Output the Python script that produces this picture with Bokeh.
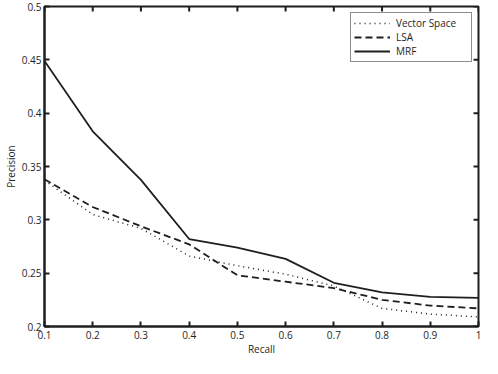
import math
from bokeh.plotting import figure
from bokeh.models import FixedTicker, Range1d, Legend, LegendItem
from bokeh.embed import file_html
from bokeh.resources import INLINE

recall = [0.1, 0.2, 0.3, 0.4, 0.5, 0.6, 0.7, 0.8, 0.9, 1.0]
vector_space = [0.337, 0.305, 0.292, 0.266, 0.257, 0.249, 0.238, 0.217, 0.2116, 0.209]
lsa = [0.338, 0.312, 0.294, 0.277, 0.248, 0.242, 0.236, 0.225, 0.2196, 0.217]
mrf = [0.449, 0.383, 0.3375, 0.282, 0.274, 0.2634, 0.241, 0.232, 0.2277, 0.2268]

x_ticks = [0.1, 0.2, 0.3, 0.4, 0.5, 0.6, 0.7, 0.8, 0.9, 1.0]
x_tick_labels = ["0.1", "0.2", "0.3", "0.4", "0.5", "0.6", "0.7", "0.8", "0.9", "1"]
y_ticks = [0.2, 0.25, 0.3, 0.35, 0.4, 0.45, 0.5]
y_tick_labels = ["0.2", "0.25", "0.3", "0.35", "0.4", "0.45", "0.5"]

X_MIN, X_MAX = 0.1, 1.0
Y_MIN, Y_MAX = 0.2, 0.5

FONT = "Open Sans"
FS = "10px"
INK = "#1e1e1e"

p = figure(width=482, height=358, output_backend="svg", toolbar_location=None,
           x_range=Range1d(X_MIN, X_MAX), y_range=Range1d(Y_MIN, Y_MAX),
           min_border_left=37, min_border_right=4, min_border_top=6, min_border_bottom=20)
p.xgrid.visible = False
p.ygrid.visible = False
p.outline_line_color = INK
p.outline_line_width = 2
p.background_fill_color = "white"
p.border_fill_color = "white"

def style_axis(ax, ticks, labels):
    ax.ticker = FixedTicker(ticks=ticks)
    ax.major_label_overrides = {t: l for t, l in zip(ticks, labels)}
    ax.major_tick_in = 5
    ax.major_tick_out = 0
    ax.minor_tick_in = 0
    ax.minor_tick_out = 0
    ax.major_tick_line_color = INK
    ax.major_tick_line_width = 2
    ax.axis_line_color = INK
    ax.axis_line_width = 2
    ax.major_label_text_font = FONT
    ax.major_label_text_color = INK
    ax.major_label_text_font_size = FS
    ax.axis_label_text_font = FONT
    ax.axis_label_text_font_size = FS
    ax.axis_label_text_font_style = "normal"
    ax.axis_label_text_color = INK

style_axis(p.xaxis[0], x_ticks, x_tick_labels)
style_axis(p.yaxis[0], y_ticks, y_tick_labels)
p.xaxis[0].axis_label = "Recall"
p.yaxis[0].axis_label = "Precision"
p.xaxis[0].major_label_standoff = 4
p.xaxis[0].axis_label_standoff = 0
p.yaxis[0].major_label_standoff = 3
p.yaxis[0].axis_label_standoff = 1

# inward ticks on the top and right edges of the box (MATLAB style)
p.scatter(x_ticks, [Y_MAX] * len(x_ticks), marker="dash", size=10, angle=math.pi / 2,
          line_color=INK, line_width=2)
p.scatter([X_MAX] * len(y_ticks), y_ticks, marker="dash", size=10, angle=0,
          line_color=INK, line_width=2)

r1 = p.line(recall, vector_space, line_color=INK, line_width=1.5, line_dash="1 4")
r2 = p.line(recall, lsa, line_color=INK, line_width=1.8, line_dash="7 4")
r3 = p.line(recall, mrf, line_color=INK, line_width=1.8)

legend = Legend(items=[LegendItem(label="Vector Space", renderers=[r1]),
                       LegendItem(label="LSA", renderers=[r2]),
                       LegendItem(label="MRF", renderers=[r3])],
                location="top_right")
legend.label_text_font = FONT
legend.label_text_font_size = FS
legend.label_text_color = INK
legend.border_line_color = INK
legend.border_line_width = 1.5
legend.glyph_width = 36
legend.glyph_height = 14
legend.label_height = 14
legend.label_width = 72
legend.label_standoff = 6
legend.spacing = 0
legend.padding = 3
legend.margin = 6
legend.background_fill_alpha = 1
p.add_layout(legend, "center")

open("out.html", "w").write(file_html(p, INLINE))
